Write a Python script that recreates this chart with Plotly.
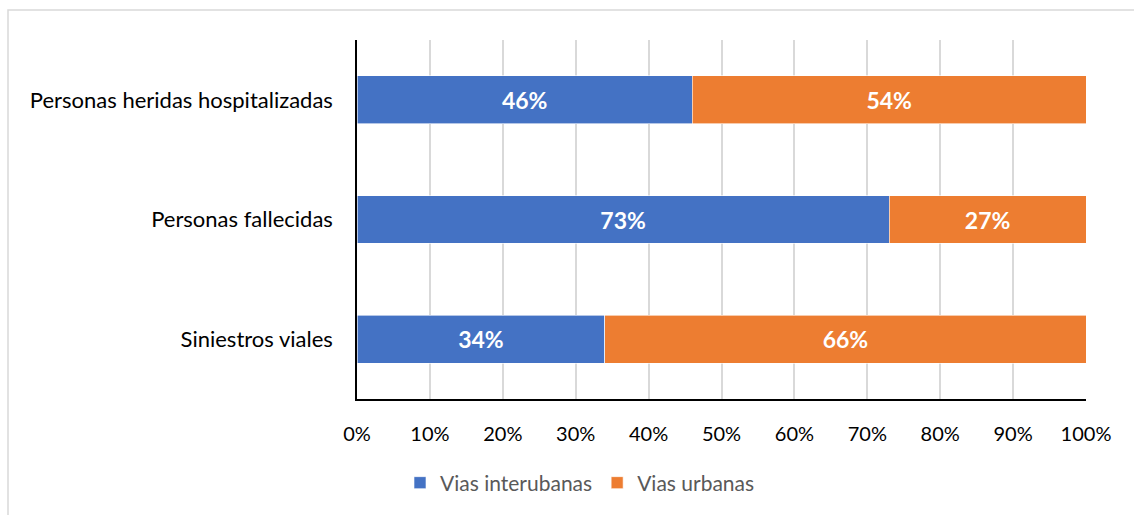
import plotly.graph_objects as go

# Share of road incidents by road type (100% stacked)
categories = ["Siniestros viales", "Personas fallecidas", "Personas heridas hospitalizadas"]
interurbanas = [34, 73, 46]
urbanas = [66, 27, 54]
series_names = ["Vias interubanas", "Vias urbanas"]
tick_values = [0, 10, 20, 30, 40, 50, 60, 70, 80, 90, 100]
tick_labels = [f"{v}%" for v in tick_values]

BLUE = "#4472C4"
ORANGE = "#ED7D31"
FONT = "Lato, 'Open Sans', sans-serif"

fig = go.Figure()
for name, vals, color in [(series_names[0], interurbanas, BLUE), (series_names[1], urbanas, ORANGE)]:
    fig.add_trace(go.Bar(
        y=categories, x=vals, name=name, orientation="h",
        marker=dict(color=color, line=dict(color="white", width=0.6)),
        text=[f"{v}%" for v in vals], textposition="inside",
        insidetextanchor="middle",
        textfont=dict(color="white", size=23, family=FONT, weight="bold"),
        hoverinfo="skip",
    ))

W, H = 1134, 515
L, R, T, B = 357, 48, 40, 116
pw, ph = W - L - R, H - T - B

def px_x(p):
    return (p - L) / pw

def px_y(p):
    return (H - B - p) / ph

fig.update_layout(
    width=W, height=H,
    barmode="stack", bargap=0.6,
    margin=dict(l=L, r=R, t=T, b=B),
    paper_bgcolor="white", plot_bgcolor="white",
    font=dict(family=FONT, color="#000000", size=18),
    showlegend=True,
    legend=dict(
        orientation="h", x=px_x(580), y=px_y(483),
        xanchor="center", yanchor="middle",
        font=dict(size=21, color="#595959", family=FONT),
        traceorder="normal", itemwidth=30,
    ),
    shapes=[dict(
        type="rect", xref="paper", yref="paper",
        x0=px_x(8), x1=px_x(1150), y0=px_y(530), y1=px_y(10),
        line=dict(color="#D9D9D9", width=1.5), fillcolor="rgba(0,0,0,0)",
        layer="below",
    )],
    uniformtext=dict(mode=False),
)

fig.update_xaxes(
    range=[0, 100], tickvals=tick_values, ticktext=tick_labels,
    showgrid=True, gridcolor="#D9D9D9", gridwidth=1.5,
    showline=True, linecolor="#000000", linewidth=1.5,
    ticks="", ticklabelstandoff=16, zeroline=False,
    tickfont=dict(size=20, color="#000000", family=FONT),
    fixedrange=True,
)
fig.update_yaxes(
    categoryorder="array", categoryarray=categories,
    showline=True, linecolor="#000000", linewidth=1.5,
    ticks="", ticklabelstandoff=18, showgrid=False,
    tickfont=dict(size=22, color="#000000", family=FONT),
    fixedrange=True,
)

fig.write_html("out.html", config={"displayModeBar": False})
